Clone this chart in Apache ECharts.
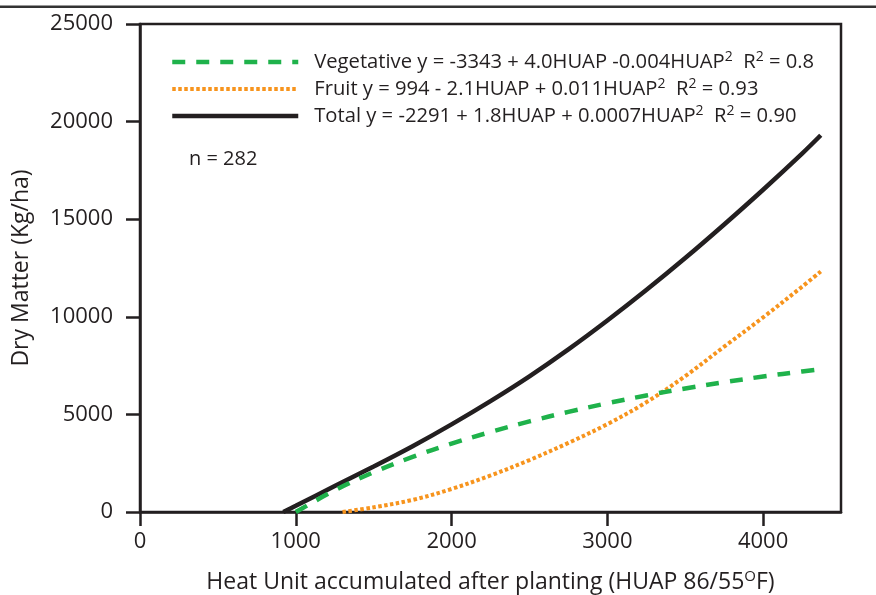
<!DOCTYPE html>
<html>
<head>
<meta charset="utf-8">
<script src="https://cdn.jsdelivr.net/npm/echarts@6/dist/echarts.min.js"></script>
<style>
html,body{margin:0;padding:0;background:#fff;}
#chart{width:876px;height:595px;}
</style>
</head>
<body>
<div id="chart"></div>
<script>
// ---- data ----
const seriesNames = ['Vegetative', 'Fruit', 'Total'];
const vegHuap   = [1000, 1250, 1500, 1750, 2000, 2250, 2500, 2750, 3000, 3250, 3500, 3750, 4000, 4250, 4350];
const vegDM     = [0, 1110, 2040, 2820, 3500, 4100, 4640, 5130, 5570, 5970, 6330, 6650, 6940, 7200, 7300];
const fruitHuap = [1300, 1500, 1750, 2000, 2250, 2500, 2750, 3000, 3250, 3500, 3750, 4000, 4250, 4370];
const fruitDM   = [0, 240, 620, 1180, 1870, 2660, 3540, 4500, 5620, 6960, 8470, 9970, 11540, 12320];
const totalHuap = [920, 1000, 1250, 1500, 1750, 2000, 2250, 2500, 2750, 3000, 3250, 3500, 3750, 4000, 4250, 4370];
const totalDM   = [0, 320, 1330, 2330, 3370, 4490, 5680, 6950, 8330, 9810, 11370, 13010, 14730, 16510, 18360, 19300];
const xTicks = [0, 1000, 2000, 3000, 4000];
const yTicks = [0, 5000, 10000, 15000, 20000, 25000];
const legendTexts = {
  Vegetative: ['Vegetative y = -3343 + 4.0HUAP -0.004HUAP', '2', '  R', '2', ' = 0.8'],
  Fruit: ['Fruit y = 994 - 2.1HUAP + 0.011HUAP', '2', '  R', '2', ' = 0.93'],
  Total: ['Total y = -2291 + 1.8HUAP + 0.0007HUAP', '2', '  R', '2', ' = 0.90']
};
const noteText = 'n = 282';
const xName = ['Heat Unit accumulated after planting (HUAP 86/55', 'O', 'F)'];
const yName = 'Dry Matter (Kg/ha)';

const pairs = (xs, ys) => xs.map((x, i) => [x, ys[i]]);
const FONT = 'Open Sans';
const INK = '#231f20';
const GREEN = '#1fb24b', ORANGE = '#f7941d';

const styles = {
  Vegetative: {color: GREEN, width: 4.5, type: [13, 11], cap: 'butt'},
  Fruit: {color: ORANGE, width: 4, type: [3.5, 2.5], cap: 'butt'},
  Total: {color: INK, width: 4.5, type: 'solid'}
};

const chart = echarts.init(document.getElementById('chart'), null, {renderer: 'canvas'});
chart.setOption({
  animation: false,
  backgroundColor: '#fff',
  grid: {left: 140, right: 35, top: 24, bottom: 83, outerBoundsMode: 'none', containLabel: false,
         show: true, borderColor: INK, borderWidth: 2.5, backgroundColor: 'transparent'},
  graphic: [
    {type: 'rect', shape: {x: 0, y: 5.5, width: 876, height: 2.5}, style: {fill: '#333'}},
    {type: 'text', left: 189, top: 149, style: {text: noteText, font: '20px "' + FONT + '"', fill: INK}}
  ],
  legend: {
    orient: 'vertical', left: 170, top: 50.5, padding: 0, itemWidth: 126, itemHeight: 14, itemGap: 5.5,
    data: seriesNames.map(n => ({name: n, itemStyle: {opacity: 0}, lineStyle: styles[n]})),
    formatter: function (name) {
      const p = legendTexts[name];
      return '{t|' + p[0] + '}{s|' + p[1] + '}{t|' + p[2] + '}{s|' + p[3] + '}{t|' + p[4] + '}';
    },
    textStyle: {
      padding: [0, 0, 0, 11],
      rich: {
        t: {fontSize: 20.2, fontFamily: FONT, color: INK, lineHeight: 23},
        s: {fontSize: 14, fontFamily: FONT, color: INK, lineHeight: 13, verticalAlign: 'top'}
      }
    }
  },
  xAxis: {
    type: 'value', min: 0, max: 4500, interval: 1000,
    name: '{t|' + xName[0] + '}{s|' + xName[1] + '}{t|' + xName[2] + '}',
    nameLocation: 'middle', nameGap: 57,
    nameTextStyle: {rich: {
      t: {fontSize: 23, fontFamily: FONT, color: INK, lineHeight: 26},
      s: {fontSize: 15, fontFamily: FONT, color: INK, lineHeight: 14, verticalAlign: 'top'}
    }},
    splitLine: {show: false},
    axisLine: {lineStyle: {color: INK, width: 2.5}},
    axisTick: {show: true, length: 14, lineStyle: {color: INK, width: 2.5}, customValues: xTicks},
    axisLabel: {fontSize: 22, fontFamily: FONT, color: INK, margin: 19, customValues: xTicks,
                formatter: v => String(v)}
  },
  yAxis: {
    type: 'value', min: 0, max: 25000, interval: 5000,
    name: yName, nameLocation: 'middle', nameGap: 107, nameRotate: 90,
    nameTextStyle: {fontSize: 23, fontFamily: FONT, color: INK},
    splitLine: {show: false},
    axisLine: {onZero: false, lineStyle: {color: INK, width: 2.5}},
    axisTick: {show: true, length: 14, lineStyle: {color: INK, width: 2.5}, customValues: yTicks},
    axisLabel: {fontSize: 22, fontFamily: FONT, color: INK, margin: 27, customValues: yTicks,
                formatter: v => String(v)}
  },
  series: [
    {name: 'Vegetative', type: 'line', data: pairs(vegHuap, vegDM), smooth: 0.35, symbol: 'none', z: 3,
     lineStyle: styles.Vegetative, itemStyle: {color: GREEN}},
    {name: 'Fruit', type: 'line', data: pairs(fruitHuap, fruitDM), smooth: 0.35, symbol: 'none', z: 2,
     lineStyle: styles.Fruit, itemStyle: {color: ORANGE}},
    {name: 'Total', type: 'line', data: pairs(totalHuap, totalDM), smooth: 0.35, symbol: 'none', z: 1,
     lineStyle: styles.Total, itemStyle: {color: INK}}
  ]
});
</script>
</body>
</html>
